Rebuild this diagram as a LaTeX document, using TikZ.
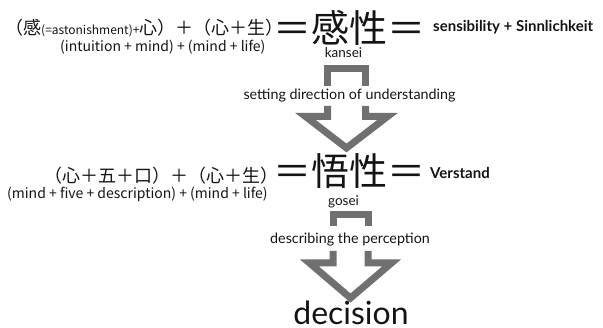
\documentclass[tikz,border=0pt]{standalone}
\usepackage{fontspec}
\setmainfont{Lato}
\newfontfamily\jp{Noto Sans CJK JP}
\definecolor{arrowgray}{RGB}{112,112,112}
\definecolor{ink}{RGB}{20,20,20}
\begin{document}
\begin{tikzpicture}[x=1pt,y=-1pt,
  arrowline/.style={draw=arrowgray,line width=7pt,line join=miter,miter limit=10},
  jpbig/.style={inner sep=0,text=ink,font=\jp\fontsize{18}{20}\selectfont},
  jpsmall/.style={inner sep=0,text=ink,font=\jp\fontsize{14}{16}\selectfont},
  term/.style={inner sep=0,text=ink,font=\jp\fontsize{38}{40}\selectfont},
  roman/.style={inner sep=0,text=ink,font=\fontsize{13.5}{15}\selectfont},
  gloss/.style={inner sep=0,text=ink,font=\bfseries\fontsize{15}{17}\selectfont},
  steplabel/.style={inner sep=0,text=ink,font=\fontsize{14.3}{16}\selectfont}]
\useasboundingbox (0,0) rectangle (603,328);

% ---- row 1
\node[jpbig,anchor=base west] (f1) at (5,35) {（感{\fontsize{12}{13}\selectfont(=astonishment)+}心）＋（心＋生）};
\node[jpsmall,anchor=west] (e1) at (60,47.5) {(intuition + mind) + (mind + life)};
\node[term] (t1) at (349.5,28) {＝感性＝};
\node[roman] (k1) at (343.5,53) {kansei};
\node[gloss,anchor=west] (g1) at (433,27) {sensibility + Sinnlichkeit};

% ---- arrow 1
\coordinate (a1l) at (327.5,68.5);
\coordinate (a1r) at (365.5,68.5);
\draw[arrowline] (327.5,86) -- (a1l) -- (a1r) -- (365.5,86);
\draw[arrowline] (327.5,106) -- (327.5,116.5) -- (305.5,116.5) -- (346.5,148) -- (387.5,116.5) -- (365.5,116.5) -- (365.5,106);
\node[steplabel] (s1) at (349.5,96) {setting direction of understanding};

% ---- row 2
\node[jpbig,anchor=base west] (f2) at (44,183) {（心＋五＋口）＋（心＋生）};
\node[jpsmall,anchor=west] (e2) at (7,194) {(mind + five + description) + (mind + life)};
\node[term] (t2) at (349.5,171) {＝悟性＝};
\node[gloss,anchor=west] (g2) at (430,173) {Verstand};
\node[roman] (k2) at (343.5,202) {gosei};

% ---- arrow 2
\draw[arrowline] (333,226) -- (333,215) -- (368,215) -- (368,226);
\draw[arrowline] (333,251) -- (333,263) -- (309.5,263) -- (350.5,298) -- (391.5,263) -- (368,263) -- (368,251);
\node[steplabel] (s2) at (350,240) {describing the perception};

\node[inner sep=0,text=ink,font=\fontsize{32}{34}\selectfont,anchor=base] (d) at (351,325) {decision};
\end{tikzpicture}
\end{document}
